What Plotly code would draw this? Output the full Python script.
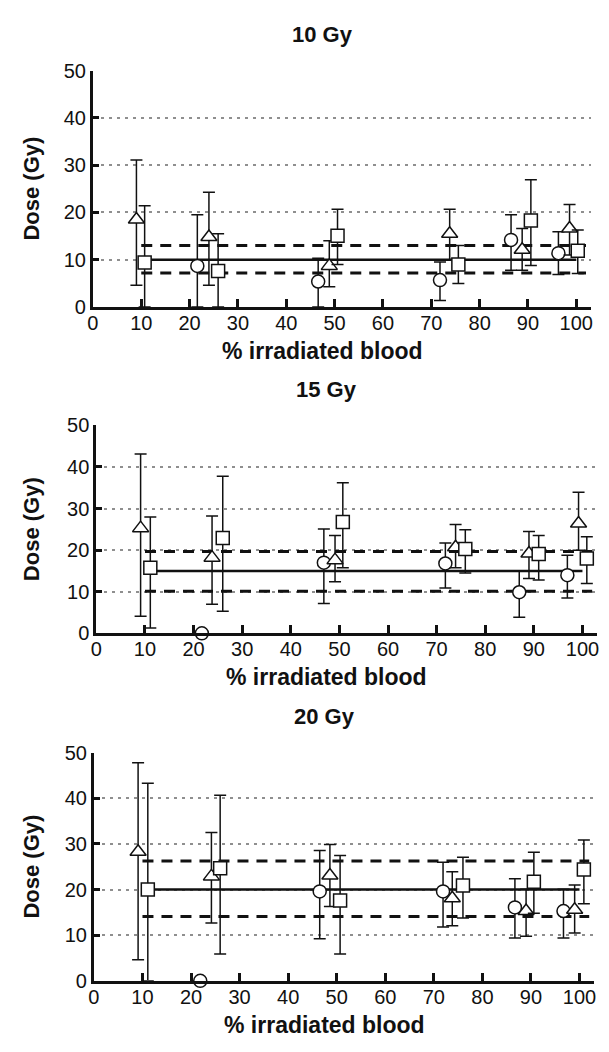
import plotly.graph_objects as go

# ---------------- data ----------------
panel_titles = ["10 Gy", "15 Gy", "20 Gy"]
x_tick_vals = [0, 10, 20, 30, 40, 50, 60, 70, 80, 90, 100]
y_tick_vals = [0, 10, 20, 30, 40, 50]

# 10 Gy
p1_circle_x = [21.6, 46.6, 71.8, 86.5, 96.3]
p1_circle_y = [8.7, 5.4, 5.7, 14.2, 11.4]
p1_circle_hi = [19.5, 10.3, 9.5, 19.5, 15.9]
p1_circle_lo = [0.0, 0.0, 1.4, 7.8, 6.9]
p1_tri_x = [9.0, 24.0, 48.9, 73.8, 88.8, 98.6]
p1_tri_y = [18.5, 14.8, 8.7, 15.5, 12.1, 16.6]
p1_tri_hi = [31.1, 24.3, 14.0, 20.7, 16.6, 21.7]
p1_tri_lo = [4.6, 4.6, 4.3, 10.0, 7.8, 11.0]
p1_sq_x = [10.7, 25.9, 50.6, 75.6, 90.6, 100.3]
p1_sq_y = [9.4, 7.6, 15.1, 9.0, 18.3, 11.9]
p1_sq_hi = [21.4, 15.5, 20.7, 13.0, 26.9, 16.3]
p1_sq_lo = [0.0, 0.0, 9.0, 5.0, 8.8, 7.1]

# 15 Gy
p2_circle_x = [21.7, 46.8, 71.8, 87.0, 96.9]
p2_circle_y = [0.0, 17.0, 16.8, 9.9, 14.0]
p2_circle_hi = [0.0, 25.1, 21.7, 15.0, 18.8]
p2_circle_lo = [0.0, 7.2, 10.9, 3.9, 8.5]
p2_tri_x = [9.1, 23.8, 49.1, 73.9, 89.0, 99.2]
p2_tri_y = [25.3, 18.2, 17.6, 20.7, 19.2, 26.4]
p2_tri_hi = [43.1, 28.2, 23.5, 26.2, 24.5, 33.9]
p2_tri_lo = [4.1, 7.0, 12.4, 15.8, 13.2, 20.0]
p2_sq_x = [11.1, 26.0, 50.7, 75.9, 91.0, 100.9]
p2_sq_y = [15.8, 22.9, 26.8, 20.3, 19.1, 18.0]
p2_sq_hi = [28.0, 37.8, 36.2, 24.9, 23.5, 23.2]
p2_sq_lo = [1.3, 5.3, 15.8, 14.5, 12.8, 12.0]

# 20 Gy
p3_circle_x = [21.9, 46.5, 71.9, 86.7, 96.7]
p3_circle_y = [0.0, 19.6, 19.6, 16.1, 15.3]
p3_circle_hi = [0.0, 28.6, 26.0, 22.4, 20.1]
p3_circle_lo = [0.0, 9.2, 11.8, 9.4, 9.4]
p3_tri_x = [9.1, 24.2, 48.6, 73.8, 89.0, 99.0]
p3_tri_y = [28.3, 22.9, 23.1, 18.1, 15.3, 15.6]
p3_tri_hi = [47.8, 32.5, 29.9, 23.9, 20.1, 21.0]
p3_tri_lo = [4.6, 12.7, 16.3, 12.1, 9.8, 10.5]
p3_sq_x = [11.1, 26.0, 50.7, 76.0, 90.6, 100.9]
p3_sq_y = [20.0, 24.7, 17.6, 20.9, 21.7, 24.4]
p3_sq_hi = [43.3, 40.7, 27.5, 27.1, 28.2, 30.9]
p3_sq_lo = [0.0, 5.9, 5.9, 13.8, 14.8, 16.9]

# prescribed dose and tolerance band
target_dose = [10, 15, 20]
band_high = [13.0, 19.7, 26.3]
band_low = [7.2, 10.1, 14.1]
target_x = [10, 100]
band_x = [10, 102]

# ---------------- layout ----------------
PAGE_W, PAGE_H = 609, 1052
BODY_MARGIN = 8          # default <body> margin of the written html page
W, H = PAGE_W - 2 * BODY_MARGIN, PAGE_H - 2 * BODY_MARGIN
FONT = "Liberation Sans, Arial, sans-serif"
# plot boxes in page pixels: (left, right, top, bottom)
boxes = [(88, 592.7, 60.7, 302.3), (91.5, 599, 423.2, 635.7), (89, 596, 757.7, 990.7)]
X_RANGE = [0, 103]
Y_RANGE = [0, 50]


def px(v):
    return (v - BODY_MARGIN) / W


def py(v):
    return 1 - (v - BODY_MARGIN) / H


panels = [
    dict(c=(p1_circle_x, p1_circle_y, p1_circle_hi, p1_circle_lo),
         t=(p1_tri_x, p1_tri_y, p1_tri_hi, p1_tri_lo),
         s=(p1_sq_x, p1_sq_y, p1_sq_hi, p1_sq_lo)),
    dict(c=(p2_circle_x, p2_circle_y, p2_circle_hi, p2_circle_lo),
         t=(p2_tri_x, p2_tri_y, p2_tri_hi, p2_tri_lo),
         s=(p2_sq_x, p2_sq_y, p2_sq_hi, p2_sq_lo)),
    dict(c=(p3_circle_x, p3_circle_y, p3_circle_hi, p3_circle_lo),
         t=(p3_tri_x, p3_tri_y, p3_tri_hi, p3_tri_lo),
         s=(p3_sq_x, p3_sq_y, p3_sq_hi, p3_sq_lo)),
]
symbols = {"c": ("circle", 13), "t": ("triangle-up", 14), "s": ("square", 13)}

fig = go.Figure()
layout = dict(width=W, height=H, margin=dict(l=0, r=0, t=0, b=0),
              paper_bgcolor="white", plot_bgcolor="white", showlegend=False,
              font=dict(family=FONT, color="#111"))
annotations = []

for i, (pan, box) in enumerate(zip(panels, boxes)):
    n = "" if i == 0 else str(i + 1)
    xa, ya = "x" + n, "y" + n
    left, right, top, bottom = box
    layout["xaxis" + n] = dict(
        domain=[px(left), px(right)], range=X_RANGE, anchor=ya,
        tickvals=x_tick_vals, ticks="inside", ticklen=8, tickwidth=2.5, tickcolor="#111",
        ticklabelstandoff=-4,
        showline=True, linewidth=3, linecolor="#111", showgrid=False, zeroline=False,
        tickfont=dict(size=20, family=FONT, color="#111"), fixedrange=True)
    layout["yaxis" + n] = dict(
        domain=[py(bottom), py(top)], range=Y_RANGE, anchor=xa,
        tickvals=y_tick_vals, ticks="inside", ticklen=6, tickwidth=2.5, tickcolor="#111",
        showline=True, linewidth=3, linecolor="#111", zeroline=False,
        showgrid=True, gridcolor="#8f8f8f", gridwidth=1.6, griddash="3px,5px",
        tickfont=dict(size=20, family=FONT, color="#111"), fixedrange=True)

    # tolerance band (dashed) and prescribed dose (solid)
    for yv in (band_high[i], band_low[i]):
        fig.add_trace(go.Scatter(x=band_x, y=[yv, yv], mode="lines", xaxis=xa, yaxis=ya,
                                 line=dict(color="#111", width=3, dash="11px,8px"),
                                 hoverinfo="skip"))
    fig.add_trace(go.Scatter(x=target_x, y=[target_dose[i]] * 2, mode="lines", xaxis=xa, yaxis=ya,
                             line=dict(color="#111", width=2.5), hoverinfo="skip"))

    for key in ("c", "t", "s"):
        xs, ys, his, los = pan[key]
        sym, size = symbols[key]
        fig.add_trace(go.Scatter(
            x=xs, y=ys, mode="markers", xaxis=xa, yaxis=ya, cliponaxis=False,
            marker=dict(symbol=sym, size=size, color="white",
                        line=dict(color="#111", width=1.5)),
            error_y=dict(type="data", symmetric=False,
                         array=[h - y for h, y in zip(his, ys)],
                         arrayminus=[y - l for y, l in zip(ys, los)],
                         color="#111", thickness=1.5, width=6)))

    cx = (left + right) / 2
    # panel title
    annotations.append(dict(text="<b>%s</b>" % panel_titles[i], xref="paper", yref="paper",
                            x=px(cx - 20), y=py(top - 37), showarrow=False,
                            xanchor="center", yanchor="middle",
                            font=dict(size=22, family=FONT, color="#111")))
    # x-axis title
    annotations.append(dict(text="<b>% irradiated blood</b>", xref="paper", yref="paper",
                            x=px(cx - 20), y=py(bottom + 45), showarrow=False,
                            xanchor="center", yanchor="middle",
                            font=dict(size=23, family=FONT, color="#111")))
    # y-axis title
    annotations.append(dict(text="<b>Dose (Gy)</b>", xref="paper", yref="paper",
                            x=px(26), y=py((top + bottom) / 2), showarrow=False,
                            textangle=-90, xanchor="center", yanchor="middle",
                            font=dict(size=22, family=FONT, color="#111")))

layout["annotations"] = annotations
fig.update_layout(**layout)
fig.write_html("out.html")
